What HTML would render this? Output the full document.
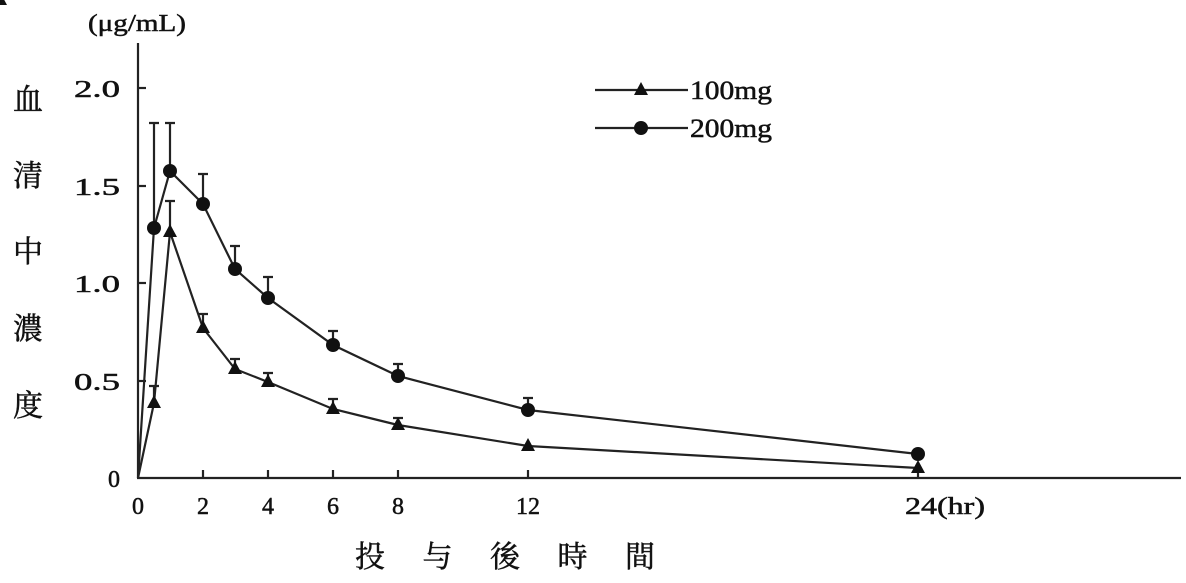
<!DOCTYPE html>
<html><head><meta charset="utf-8"><style>
body{margin:0;background:#fff;}
svg text{font-family:"Liberation Serif","Noto Serif CJK SC",serif;fill:#111;stroke:#111;stroke-width:0.5;}
</style></head><body>
<svg width="1186" height="578" xmlns="http://www.w3.org/2000/svg">
<g stroke="#222" stroke-width="2.2" fill="none">
<line x1="138" y1="43" x2="138" y2="478"/>
<line x1="137" y1="478" x2="1181" y2="478"/>
<line x1="138" y1="88" x2="146" y2="88"/>
<line x1="138" y1="186" x2="146" y2="186"/>
<line x1="138" y1="283" x2="146" y2="283"/>
<line x1="138" y1="381" x2="146" y2="381"/>
<line x1="203" y1="478" x2="203" y2="470"/>
<line x1="268" y1="478" x2="268" y2="470"/>
<line x1="333" y1="478" x2="333" y2="470"/>
<line x1="398" y1="478" x2="398" y2="470"/>
<line x1="528" y1="478" x2="528" y2="470"/>
<line x1="918" y1="478" x2="918" y2="470"/>
<path d="M154 228V123M149 123h10M170 171V123M165 123h10M203 204V174M198 174h10M235 269V246M230 246h10M268 298V277M263 277h10M333 345V331M328 331h10M398 376V364M393 364h10M528 410V398M523 398h10"/>
<path d="M154 403V386M149 386h10M170 232V201M165 201h10M203 328V314M198 314h10M235 369V359M230 359h10M268 382V373M263 373h10M333 409V399M328 399h10M398 425V418M393 418h10"/>
<polyline points="138,478 154,228 170,171 203,204 235,269 268,298 333,345 398,376 528,410 918,454"/>
<polyline points="138,478 154,403 170,232 203,328 235,369 268,382 333,409 398,425 528,446 918,468"/>
<line x1="595" y1="90" x2="688" y2="90"/>
<line x1="595" y1="128" x2="688" y2="128"/>
</g>
<g fill="#111">
<circle cx="154" cy="228" r="7"/><circle cx="170" cy="171" r="7"/><circle cx="203" cy="204" r="7"/><circle cx="235" cy="269" r="7"/><circle cx="268" cy="298" r="7"/><circle cx="333" cy="345" r="7"/><circle cx="398" cy="376" r="7"/><circle cx="528" cy="410" r="7"/><circle cx="918" cy="454" r="7"/>
<circle cx="641" cy="128" r="7"/>
<g id="t"><path d="M0 -8L7 5H-7Z"/></g>
<use href="#t" x="154" y="403"/><use href="#t" x="170" y="232"/><use href="#t" x="203" y="328"/><use href="#t" x="235" y="369"/><use href="#t" x="268" y="382"/><use href="#t" x="333" y="409"/><use href="#t" x="398" y="425"/><use href="#t" x="528" y="446"/><use href="#t" x="918" y="468"/><use href="#t" x="641" y="90"/>
</g>
<g font-size="24">
<text x="88" y="31" textLength="98" lengthAdjust="spacingAndGlyphs">(μg/mL)</text>
<text x="120" y="97" text-anchor="end" textLength="46" lengthAdjust="spacingAndGlyphs">2.0</text>
<text x="120" y="195" text-anchor="end" textLength="46" lengthAdjust="spacingAndGlyphs">1.5</text>
<text x="120" y="292" text-anchor="end" textLength="46" lengthAdjust="spacingAndGlyphs">1.0</text>
<text x="120" y="390" text-anchor="end" textLength="46" lengthAdjust="spacingAndGlyphs">0.5</text>
<text x="120" y="487" text-anchor="end">0</text>
<text x="138" y="514" text-anchor="middle">0</text>
<text x="203" y="514" text-anchor="middle">2</text>
<text x="268" y="514" text-anchor="middle">4</text>
<text x="333" y="514" text-anchor="middle">6</text>
<text x="398" y="514" text-anchor="middle">8</text>
<text x="528" y="514" text-anchor="middle">12</text>
<text x="905" y="514" textLength="80" lengthAdjust="spacingAndGlyphs">24(hr)</text>
<text x="690" y="99" font-size="26" textLength="82" lengthAdjust="spacingAndGlyphs">100mg</text>
<text x="690" y="137" font-size="26" textLength="82" lengthAdjust="spacingAndGlyphs">200mg</text>
</g>
<g font-size="30" text-anchor="middle" style="stroke-width:1">
<text x="28" y="110">血</text>
<text x="28" y="186">清</text>
<text x="28" y="262">中</text>
<text x="28" y="339">濃</text>
<text x="28" y="416">度</text>
<text x="505" y="567" textLength="300" lengthAdjust="spacing">投与後時間</text>
</g>
</svg>
</body></html>
